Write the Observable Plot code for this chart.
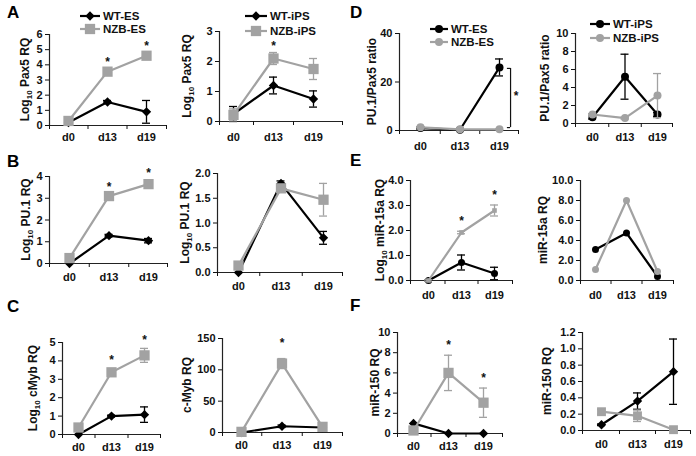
<!DOCTYPE html>
<html><head><meta charset="utf-8">
<script src="https://cdn.jsdelivr.net/npm/d3@7"></script>
<script src="https://cdn.jsdelivr.net/npm/@observablehq/plot@0.6"></script>
<style>
body{margin:0;background:#fff;}
#fig{position:relative;width:696px;height:456px;overflow:hidden;background:#fff;font-family:"Liberation Sans",Arial,sans-serif;}
#fig svg{position:absolute;left:0;top:0;}
</style></head><body><div id="fig"></div>
<script>
// ---- data ----
const days = ["d0", "d13", "d19"];
// A: Pax5
const pax5EsWT = [0.2, 1.55, 0.9],  pax5EsWTErr = [0.08, 0.1, 0.75];
const pax5EsNZB = [0.3, 3.55, 4.6], pax5EsNZBErr = [0.1, 0.1, 0.15];
const pax5IpsWT = [0.25, 1.2, 0.75], pax5IpsWTErr = [0.25, 0.28, 0.27];
const pax5IpsNZB = [0.22, 2.1, 1.75], pax5IpsNZBErr = [0.2, 0.2, 0.35];
// B: PU.1
const pu1EsWT = [0.0, 1.28, 1.05], pu1EsWTErr = [0, 0.06, 0.1];
const pu1EsNZB = [0.25, 3.1, 3.65], pu1EsNZBErr = [0.05, 0.08, 0.06];
const pu1IpsWT = [0.0, 1.8, 0.7], pu1IpsWTErr = [0, 0.05, 0.13];
const pu1IpsNZB = [0.14, 1.7, 1.47], pu1IpsNZBErr = [0.03, 0.05, 0.33];
// C: c-Myb
const cmybEsWT = [0.0, 1.0, 1.08], cmybEsWTErr = [0, 0.05, 0.42];
const cmybEsNZB = [0.38, 3.38, 4.3], cmybEsNZBErr = [0.05, 0.05, 0.38];
const cmybIpsWT = [0, 10, 8], cmybIpsWTErr = [0, 2, 1];
const cmybIpsNZB = [1, 110, 9], cmybIpsNZBErr = [0, 8, 1];
// D: PU.1/Pax5 ratio
const ratioEsWT = [1.0, 0.3, 26], ratioEsWTErr = [0.3, 0.1, 3.5];
const ratioEsNZB = [1.3, 0.5, 0.5], ratioEsNZBErr = [0.2, 0.1, 0.1];
const ratioIpsWT = [0.7, 5.2, 1.0], ratioIpsWTErr = [0.2, 2.5, 0.2];
const ratioIpsNZB = [1.0, 0.6, 3.1], ratioIpsNZBErr = [0.1, 0.1, 2.45];
// E: miR-15a
const mir15EsWT = [0.0, 0.72, 0.28], mir15EsWTErr = [0.03, 0.3, 0.25];
const mir15EsNZB = [0.0, 1.92, 2.8], mir15EsNZBErr = [0.03, 0.05, 0.22];
const mir15IpsWT = [3.1, 4.75, 0.4], mir15IpsWTErr = [0, 0, 0];
const mir15IpsNZB = [1.1, 8.0, 0.9], mir15IpsNZBErr = [0, 0, 0];
// F: miR-150
const mir150EsWT = [1.0, 0.0, 0.0], mir150EsWTErr = [0, 0, 0];
const mir150EsNZB = [0.3, 6.0, 3.05], mir150EsNZBErr = [0.1, 1.75, 1.45];
const mir150IpsWT = [0.07, 0.36, 0.72], mir150IpsWTErr = [0.01, 0.1, 0.4];
const mir150IpsNZB = [0.23, 0.18, 0.01], mir150IpsNZBErr = [0.03, 0.07, 0.01];
// significance stars: [day index, height]
const starsA1 = [[1, 4.35], [2, 5.4]];
const starsA2 = [[1, 2.6]];
const starsB1 = [[1, 3.63], [2, 4.28]];
const starsC1 = [[1, 4.18], [2, 5.27]];
const starsC2 = [[1, 148]];
const starsE1 = [[1, 2.48], [2, 3.52]];
const starsF1 = [[1, 9.0], [2, 5.74]];
const starsD1 = [[2.42, 15.3]];
const bracketD1 = {x: 2.28, xIn: 2.2, lo: 1.2, hi: 25.6};

const BLACK = "#000", GRAY = "#a2a2a2";
const FONT = "'Liberation Sans', Arial, sans-serif";
const W = 696, H = 456;
const fig = document.getElementById("fig");

const S = (vals, errs, color, sym, r) => ({vals, errs, color, sym, r});
const LOG = (name) => ["Log", "10", " " + name];

const panels = [
  {ax:49, xr:166, x0:68, x2:146, yt:34, y0:125, ymax:6, ticks:[0,1,2,3,4,5,6], fmt:"d", label:LOG("Pax5 RQ"), lx:25, pad:8,
   series:[S(pax5EsWT,pax5EsWTErr,BLACK,"diamond2",4.2), S(pax5EsNZB,pax5EsNZBErr,GRAY,"square",5.8)], stars:starsA1},
  {ax:219, xr:342, x0:233, x2:313, yt:31, y0:121, ymax:3, ticks:[0,1,2,3], fmt:"d", label:LOG("Pax5 RQ"), lx:187, pad:12,
   series:[S(pax5IpsWT,pax5IpsWTErr,BLACK,"diamond2",4.2), S(pax5IpsNZB,pax5IpsNZBErr,GRAY,"square",5.8)], stars:starsA2},
  {ax:399, xr:518, x0:420, x2:499, yt:33, y0:130, ymax:40, ticks:[0,20,40], fmt:"d", label:["PU.1/Pax5 ratio"], lx:372, pad:12,
   series:[S(ratioEsWT,ratioEsWTErr,BLACK,"circle",4), S(ratioEsNZB,ratioEsNZBErr,GRAY,"circle",4)], stars:starsD1, bracket:bracketD1},
  {ax:575, xr:672, x0:592, x2:657, yt:33, y0:123, ymax:10, ticks:[0,2,4,6,8,10], fmt:"d", label:["PU.1/Pax5 ratio"], lx:545, pad:10,
   series:[S(ratioIpsWT,ratioIpsWTErr,BLACK,"circle",4), S(ratioIpsNZB,ratioIpsNZBErr,GRAY,"circle",4)], stars:[]},
  {ax:49, xr:167, x0:69, x2:148, yt:176, y0:263, ymax:4, ticks:[0,1,2,3,4], fmt:"d", label:LOG("PU.1 RQ"), lx:26, pad:10,
   series:[S(pu1EsWT,pu1EsWTErr,BLACK,"diamond2",4.2), S(pu1EsNZB,pu1EsNZBErr,GRAY,"square",5.8)], stars:starsB1},
  {ax:217, xr:342, x0:238, x2:323, yt:173, y0:272, ymax:2, ticks:[0,0.5,1,1.5,2], fmt:".1f", label:LOG("PU.1 RQ"), lx:185, pad:10,
   series:[S(pu1IpsWT,pu1IpsWTErr,BLACK,"diamond2",4.2), S(pu1IpsNZB,pu1IpsNZBErr,GRAY,"square",5.8)], stars:[]},
  {ax:410, xr:512, x0:428, x2:494, yt:180, y0:280, ymax:4, ticks:[0,1,2,3,4], fmt:".1f", label:LOG("miR-15a RQ"), lx:380, pad:11,
   series:[S(mir15EsWT,mir15EsWTErr,BLACK,"circle",3.5), S(mir15EsNZB,mir15EsNZBErr,GRAY,"square",2.6)], stars:starsE1},
  {ax:580, xr:673, x0:595, x2:657, yt:180, y0:280, ymax:10, ticks:[0,2,4,6,8,10], fmt:".1f", label:["miR-15a RQ"], lx:543, pad:11,
   series:[S(mir15IpsWT,mir15IpsWTErr,BLACK,"circle",3.5), S(mir15IpsNZB,mir15IpsNZBErr,GRAY,"circle",3.5)], stars:[]},
  {ax:62, xr:160, x0:78, x2:144, yt:342, y0:434, ymax:5, ticks:[0,1,2,3,4,5], fmt:"d", label:LOG("cMyb RQ"), lx:33, pad:9,
   series:[S(cmybEsWT,cmybEsWTErr,BLACK,"diamond2",4.2), S(cmybEsNZB,cmybEsNZBErr,GRAY,"square",5.8)], stars:starsC1},
  {ax:222, xr:342, x0:241, x2:322, yt:338, y0:432, ymax:150, ticks:[0,50,100,150], fmt:"d", label:["c-Myb RQ"], lx:187, pad:9,
   series:[S(cmybIpsWT,cmybIpsWTErr,BLACK,"diamond2",4.2), S(cmybIpsNZB,cmybIpsNZBErr,GRAY,"square",5.8)], stars:starsC2},
  {ax:397, xr:502, x0:413, x2:483, yt:332, y0:433, ymax:10, ticks:[0,2,4,6,8,10], fmt:"d", label:["miR-150 RQ"], lx:375, pad:9,
   series:[S(mir150EsWT,mir150EsWTErr,BLACK,"diamond2",4.2), S(mir150EsNZB,mir150EsNZBErr,GRAY,"square",5.8)], stars:starsF1},
  {ax:582, xr:690, x0:601, x2:673, yt:332, y0:430, ymax:1.2, ticks:[0,0.2,0.4,0.6,0.8,1.0,1.2], fmt:".1f", label:["miR-150 RQ"], lx:547, pad:10,
   series:[S(mir150IpsWT,mir150IpsWTErr,BLACK,"diamond2",4.2), S(mir150IpsNZB,mir150IpsNZBErr,GRAY,"square",5)], stars:[]}
];

function drawPanel(p) {
  const unit = (p.x2 - p.x0) / 2;
  const dmin = -(p.x0 - p.ax) / unit, dmax = 2 + (p.xr - p.x2) / unit;
  const cap = 4 / unit;
  const marks = [
    Plot.ruleY([0], {x1: dmin, x2: dmax, stroke: "#222", strokeWidth: 1.2}),
    Plot.ruleX([dmin], {y1: 0, y2: p.ymax, stroke: "#222", strokeWidth: 1.2}),
    Plot.axisY({ticks: p.ticks, tickSize: 4, tickPadding: 3, tickFormat: d3.format(p.fmt), label: null}),
    Plot.axisX({ticks: [dmin, 0.5, 1.5, dmax], tickSize: 4, tickFormat: () => "", label: null}),
    Plot.axisX({ticks: [0, 1, 2], tickSize: 0, tickPadding: p.pad, tickFormat: i => days[i], label: null})
  ];
  for (const s of p.series) {
    const rows = s.vals.map((v, i) => ({i, v, e: s.errs[i]}));
    const eb = rows.filter(d => d.e > 0);
    marks.push(Plot.line(rows, {x: "i", y: "v", stroke: s.color, strokeWidth: 2.2}));
    marks.push(Plot.ruleX(eb, {x: "i", y1: d => d.v - d.e, y2: d => d.v + d.e, stroke: s.color, strokeWidth: 1.3}));
    marks.push(Plot.ruleY(eb, {y: d => d.v + d.e, x1: d => d.i - cap, x2: d => d.i + cap, stroke: s.color, strokeWidth: 1.3}));
    marks.push(Plot.ruleY(eb, {y: d => d.v - d.e, x1: d => d.i - cap, x2: d => d.i + cap, stroke: s.color, strokeWidth: 1.3}));
    marks.push(Plot.dot(rows, {x: "i", y: "v", symbol: s.sym, r: s.r, fill: s.color, stroke: "none"}));
  }
  if (p.stars.length) marks.push(Plot.text(p.stars, {x: d => d[0], y: d => d[1], text: () => "*", fontSize: 12, dy: 3}));
  if (p.bracket) {
    const b = p.bracket;
    marks.push(Plot.ruleX([b.x], {y1: b.lo, y2: b.hi, stroke: "#111", strokeWidth: 1.2}));
    marks.push(Plot.ruleY([b.lo, b.hi], {x1: b.xIn, x2: b.x, stroke: "#111", strokeWidth: 1.2}));
  }
  const svg = Plot.plot({
    width: W, height: H,
    marginLeft: p.ax, marginRight: W - p.xr, marginTop: p.yt, marginBottom: H - p.y0,
    x: {domain: [dmin, dmax]},
    y: {domain: [0, p.ymax]},
    style: {background: "transparent", fontFamily: FONT, fontSize: "11px", fontWeight: "bold", color: "#111", overflow: "visible"},
    marks
  });
  const t = d3.select(svg).append("text")
    .attr("transform", `translate(${p.lx},${(p.yt + p.y0) / 2}) rotate(-90)`)
    .attr("text-anchor", "middle").attr("dy", "0.35em")
    .attr("font-family", FONT).attr("font-size", 12).attr("font-weight", "bold").attr("fill", "#111");
  if (p.label.length === 1) t.text(p.label[0]);
  else {
    t.append("tspan").text(p.label[0]);
    t.append("tspan").attr("font-size", 8).attr("dy", 3).text(p.label[1]);
    t.append("tspan").attr("dy", -3).text(p.label[2]);
  }
  fig.appendChild(svg);
}
panels.forEach(drawPanel);

// overlay: panel letters and legends
const ov = d3.select(fig).append("svg").attr("width", W).attr("height", H)
  .style("font-family", FONT).style("font-weight", "bold");
const letters = [["A", 7, 18], ["B", 7, 167], ["C", 7, 312], ["D", 350, 18], ["E", 350, 166], ["F", 350, 311]];
ov.selectAll("text.letter").data(letters).join("text").attr("class", "letter")
  .attr("x", d => d[1]).attr("y", d => d[2]).attr("font-size", 17).text(d => d[0]);

const symMap = {diamond2: d3.symbolDiamond2, square: d3.symbolSquare, circle: d3.symbolCircle};
function legend(x1, x2, ys, labels, syms, rs) {
  const cols = [BLACK, GRAY];
  labels.forEach((lab, k) => {
    ov.append("line").attr("x1", x1).attr("x2", x2).attr("y1", ys[k]).attr("y2", ys[k])
      .attr("stroke", cols[k]).attr("stroke-width", 2.2);
    ov.append("path").attr("transform", `translate(${(x1 + x2) / 2},${ys[k]})`)
      .attr("d", d3.symbol(symMap[syms[k]], Math.PI * rs[k] * rs[k])()).attr("fill", cols[k]);
    ov.append("text").attr("x", x2 + 3).attr("y", ys[k]).attr("dy", "0.36em")
      .attr("font-size", 11.5).attr("fill", "#111").text(lab);
  });
}
legend(80, 100, [16, 29], ["WT-ES", "NZB-ES"], ["diamond2", "square"], [4.2, 5.8]);
legend(245, 267, [16, 31], ["WT-iPS", "NZB-iPS"], ["diamond2", "square"], [4.2, 5.8]);
legend(430, 448, [29, 42], ["WT-ES", "NZB-ES"], ["circle", "circle"], [4, 4]);
legend(590, 610, [24, 38], ["WT-iPS", "NZB-iPS"], ["circle", "circle"], [4, 4]);
</script></body></html>
